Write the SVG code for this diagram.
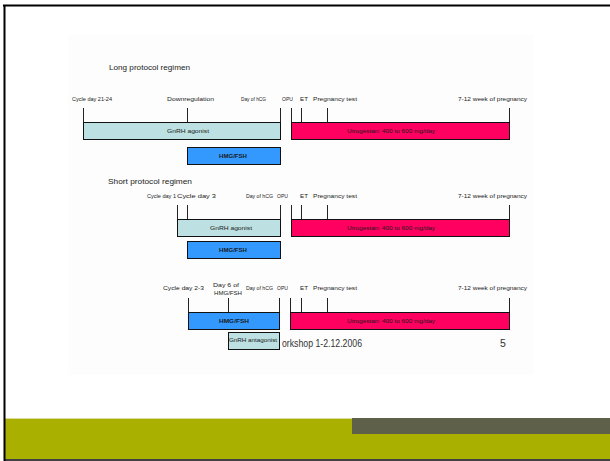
<svg xmlns="http://www.w3.org/2000/svg" width="610" height="461" viewBox="0 0 610 461">
<style>
text{font-family:"Liberation Sans",Arial,sans-serif;fill:#1a1a1a;}
.lbl{font-size:6px;}
.bt{font-size:6px;text-anchor:middle;}
.b{font-weight:bold;}
.ttl{font-size:8px;fill:#222;}
.ft{font-size:10.5px;fill:#333;}
.ago{fill:#bde0e2;stroke:#111;stroke-width:1;}
.hmg{fill:#3399ff;stroke:#111;stroke-width:1;}
.utr{fill:#ff0060;stroke:#111;stroke-width:1;}
.tick{stroke:#222;stroke-width:1;fill:none;}
</style>
<rect x="0" y="0" width="610" height="461" fill="#ffffff"/>
<rect x="68" y="35" width="466" height="340" fill="#fdfdfd"/>
<!-- frame and footer bands -->
<rect x="4" y="418" width="606" height="41" fill="#aab000"/>
<rect x="4" y="418" width="606" height="1" fill="#d9dc9a"/>
<rect x="352" y="418" width="258" height="16" fill="#5e604a"/>
<line x1="3" y1="5.5" x2="610" y2="5.5" stroke="#000" stroke-width="2"/>
<line x1="4.5" y1="5" x2="4.5" y2="461" stroke="#000" stroke-width="2"/>
<line x1="4" y1="460" x2="610" y2="460" stroke="#000" stroke-width="1.5"/>

<g id="connectors">
<path class="tick" d="M83.5 108V122M187.5 108V122M280.5 108V122M291.5 108V122M301.5 108V122M327.5 108V122M509.5 108V122"/>
<path class="tick" d="M177.5 205V219M187.5 205V219M280.5 205V219M291.5 205V219M301.5 205V219M327.5 205V219M509.5 205V219"/>
<path class="tick" d="M188.5 298V312M228.5 298V312M279.5 298V312M290.5 298V312M301.5 298V312M327.5 298V312M509.5 298V312"/>
</g>

<g id="long-protocol">
<text class="ttl" x="109" y="70" textLength="81" lengthAdjust="spacingAndGlyphs">Long protocol regimen</text>
<text class="lbl" x="72" y="101" textLength="40" lengthAdjust="spacingAndGlyphs">Cycle day 21-24</text>
<text class="lbl" x="167" y="101" textLength="47" lengthAdjust="spacingAndGlyphs">Downregulation</text>
<text class="lbl" x="241" y="101" textLength="25" lengthAdjust="spacingAndGlyphs">Day of hCG</text>
<text class="lbl" x="282" y="101" textLength="11" lengthAdjust="spacingAndGlyphs">OPU</text>
<text class="lbl" x="300" y="101" textLength="8" lengthAdjust="spacingAndGlyphs">ET</text>
<text class="lbl" x="313" y="101" textLength="44" lengthAdjust="spacingAndGlyphs">Pregnancy test</text>
<text class="lbl" x="458" y="101" textLength="69" lengthAdjust="spacingAndGlyphs">7-12 week of pregnancy</text>
</g>
<g id="long-gnrh-agonist">
<rect class="ago" x="83.5" y="122.5" width="197" height="17"/>
<text class="bt" x="188" y="133" textLength="42" lengthAdjust="spacingAndGlyphs">GnRH agonist</text>
</g>
<g id="long-hmg">
<rect class="hmg" x="187.5" y="147.5" width="93" height="17"/>
<text class="bt b" x="233" y="158" textLength="28" lengthAdjust="spacingAndGlyphs">HMG/FSH</text>
</g>
<g id="long-utrogestan">
<rect class="utr" x="291.5" y="122.5" width="218" height="17"/>
<text class="bt" x="391" y="133" textLength="88" lengthAdjust="spacingAndGlyphs">Utrogestan: 400 to 600 mg/day</text>
</g>

<g id="short-protocol">
<text class="ttl" x="108" y="184" textLength="84" lengthAdjust="spacingAndGlyphs">Short protocol regimen</text>
<text class="lbl" x="147" y="198" textLength="29" lengthAdjust="spacingAndGlyphs">Cycle day 1</text>
<text class="lbl" x="177" y="198" textLength="39" lengthAdjust="spacingAndGlyphs">Cycle day 3</text>
<text class="lbl" x="246" y="198" textLength="27" lengthAdjust="spacingAndGlyphs">Day of hCG</text>
<text class="lbl" x="277" y="198" textLength="11" lengthAdjust="spacingAndGlyphs">OPU</text>
<text class="lbl" x="300" y="198" textLength="8" lengthAdjust="spacingAndGlyphs">ET</text>
<text class="lbl" x="313" y="198" textLength="44" lengthAdjust="spacingAndGlyphs">Pregnancy test</text>
<text class="lbl" x="458" y="198" textLength="69" lengthAdjust="spacingAndGlyphs">7-12 week of pregnancy</text>
</g>
<g id="short-gnrh-agonist">
<rect class="ago" x="177.5" y="219.5" width="103" height="17"/>
<text class="bt" x="231" y="230" textLength="42" lengthAdjust="spacingAndGlyphs">GnRH agonist</text>
</g>
<g id="short-hmg">
<rect class="hmg" x="187.5" y="241.5" width="93" height="17"/>
<text class="bt b" x="233" y="252" textLength="28" lengthAdjust="spacingAndGlyphs">HMG/FSH</text>
</g>
<g id="short-utrogestan">
<rect class="utr" x="291.5" y="219.5" width="218" height="17"/>
<text class="bt" x="391" y="230" textLength="88" lengthAdjust="spacingAndGlyphs">Utrogestan: 400 to 600 mg/day</text>
</g>

<g id="antagonist-protocol">
<text class="lbl" x="163" y="290" textLength="41" lengthAdjust="spacingAndGlyphs">Cycle day 2-3</text>
<text class="lbl" x="213" y="287" textLength="26" lengthAdjust="spacingAndGlyphs">Day 6 of</text>
<text class="lbl" x="214" y="295" textLength="28" lengthAdjust="spacingAndGlyphs">HMG/FSH</text>
<text class="lbl" x="246" y="290" textLength="27" lengthAdjust="spacingAndGlyphs">Day of hCG</text>
<text class="lbl" x="277" y="290" textLength="11" lengthAdjust="spacingAndGlyphs">OPU</text>
<text class="lbl" x="300" y="290" textLength="8" lengthAdjust="spacingAndGlyphs">ET</text>
<text class="lbl" x="313" y="290" textLength="44" lengthAdjust="spacingAndGlyphs">Pregnancy test</text>
<text class="lbl" x="458" y="290" textLength="69" lengthAdjust="spacingAndGlyphs">7-12 week of pregnancy</text>
</g>
<g id="antagonist-hmg">
<rect class="hmg" x="188.5" y="312.5" width="91" height="17"/>
<text class="bt b" x="234" y="323" textLength="30" lengthAdjust="spacingAndGlyphs">HMG/FSH</text>
</g>
<g id="antagonist-utrogestan">
<rect class="utr" x="290.5" y="312.5" width="219" height="17"/>
<text class="bt" x="391" y="323" textLength="88" lengthAdjust="spacingAndGlyphs">Utrogestan: 400 to 600 mg/day</text>
</g>

<g id="footer">
<text class="ft" x="282" y="347" textLength="80" lengthAdjust="spacingAndGlyphs">orkshop 1-2.12.2006</text>
<text class="ft" x="500" y="347">5</text>
</g>

<g id="gnrh-antagonist">
<rect class="ago" x="228.5" y="332.5" width="51" height="17"/>
<text class="bt" x="253" y="342" textLength="48" lengthAdjust="spacingAndGlyphs">GnRH antagonist</text>
</g>
</svg>
